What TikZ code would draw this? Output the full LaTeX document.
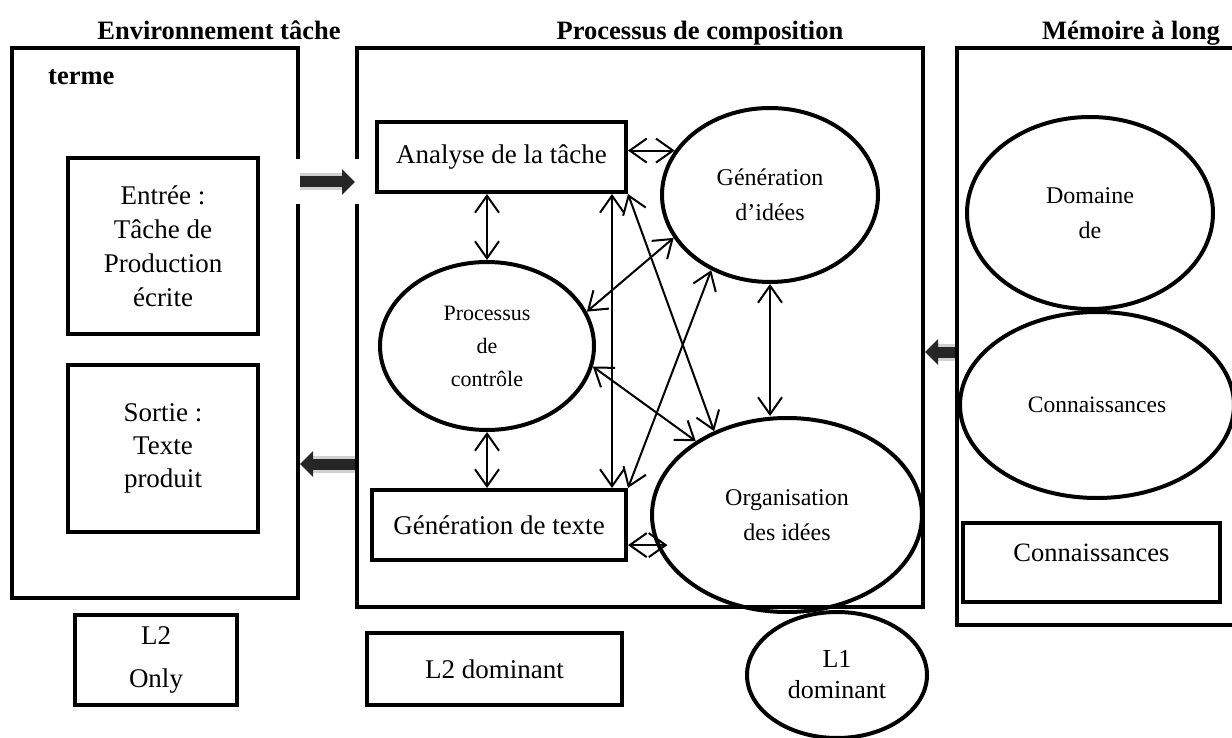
\documentclass[tikz,border=0pt]{standalone}
\usepackage{fontspec}
\setmainfont{Liberation Serif}
\usetikzlibrary{arrows.meta,shapes.geometric}

\tikzset{
  title/.style={inner sep=0pt,anchor=base,font=\bfseries\fontsize{26.5}{30}\selectfont},
  fat/.style={line width=11pt,black!85,-{Triangle[length=13pt,width=25pt]},
    preaction={draw=black!18,line width=17pt,-,shorten >=11pt}}
}

\begin{document}
\begin{tikzpicture}[x=1pt,y=-1pt]

      \useasboundingbox (0,0) rectangle (1232,738);

      \node[title] (t1) at (219,40) {Environnement tâche};
      \node[title] (t2) at (700,40) {Processus de composition};
      \node[title] (t3) at (1131,40) {Mémoire à long};
      \node[title,anchor=base west] (t4) at (48,85) {terme};

      \begin{scope}[every node/.style={draw,rectangle,line width=4pt,inner sep=0pt,align=center,font=\fontsize{27}{33}\selectfont}]
        \node[minimum width=286,minimum height=550] (env) at (155,323) {};
        \node[minimum width=566,minimum height=559] (comp) at (640,327.5) {};
        \node[minimum width=190,minimum height=176,font=\fontsize{27}{34}\selectfont] (in) at (163,246) {Entrée :\\Tâche de\\Production\\écrite};
        \node[minimum width=190,minimum height=167] (out) at (163,448) {Sortie :\\Texte\\produit};
        \node[minimum width=162,minimum height=90] (l2o) at (156,660) {L2\\[10pt]Only};
        \node[minimum width=249,minimum height=70] (ana) at (501.5,157) {Analyse de la tâche};
        \node[minimum width=254,minimum height=70] (gtx) at (499,525) {Génération de texte};
        \node[minimum width=255,minimum height=72] (l2d) at (494.5,669) {L2 dominant};
        \node[minimum width=257,minimum height=79,font=\fontsize{26.5}{30}\selectfont] (conb) at (1091.5,562.5) {\raisebox{1pt}[0pt][0pt]{Connaissances}};
        \begin{scope}
          \clip (0,0) rectangle (1232,738);
          \node[minimum width=281,minimum height=577] (mem) at (1097.5,336.5) {};
        \end{scope}
      \end{scope}

      \begin{scope}[every node/.style={draw,ellipse,line width=4pt,inner sep=0pt,align=center,font=\fontsize{24}{35}\selectfont}]
        \node[minimum width=214,minimum height=168,font=\fontsize{22}{33}\selectfont] (pro) at (487,346) {Processus\\de\\contrôle};
        \node[minimum width=216,minimum height=174] (gid) at (770,195) {Génération\\d’idées};
        \node[minimum width=270,minimum height=194] (org) at (787,515) {Organisation\\des idées};
        \node[minimum width=180,minimum height=126,font=\fontsize{26}{31}\selectfont] (l1d) at (837,675) {L1\\dominant};
        \node[minimum width=246,minimum height=192] (dom) at (1090,213) {Domaine\\de};
        \node[minimum width=274,minimum height=186,font=\fontsize{23.5}{26}\selectfont] (con) at (1097,405) {Connaissances};
      \end{scope}

      \begin{scope}[every edge/.style={draw,line width=2pt,{Straight Barb[length=17pt,width=24pt]}-{Straight Barb[length=17pt,width=24pt]}}]
        \path (ana.east |- gid.155) edge (gid.155);
        \path (pro.north |- ana.south) edge (pro.north);
        \path (pro.south) edge (pro.south |- gtx.north);
        \path ([xshift=-16pt]ana.south east) edge ([xshift=-16pt]gtx.north east);
        \path (ana.south east) edge (org.131);
        \path (gtx.north east) edge (gid.232);
        \path (pro.19) edge (gid.204);
        \path (pro.-11) edge (org.141);
        \path (gid.south) edge (gid.south |- org.north);
        \path (gtx.east |- org.193) edge ([xshift=11pt]org.193);
      \end{scope}

      \coordinate (a1) at (0,182);
      \coordinate (a2) at (0,464);
      \coordinate (a3) at (0,352);
      \fill[white] (289,159) rectangle (365,204);
      \draw[fat] (env.east |- a1) -- (comp.west |- a1);
      \draw[fat] (comp.west |- a2) -- (env.east |- a2);
      \draw[fat] (mem.west |- a3) -- (comp.east |- a3);

    \end{tikzpicture}
\end{document}
